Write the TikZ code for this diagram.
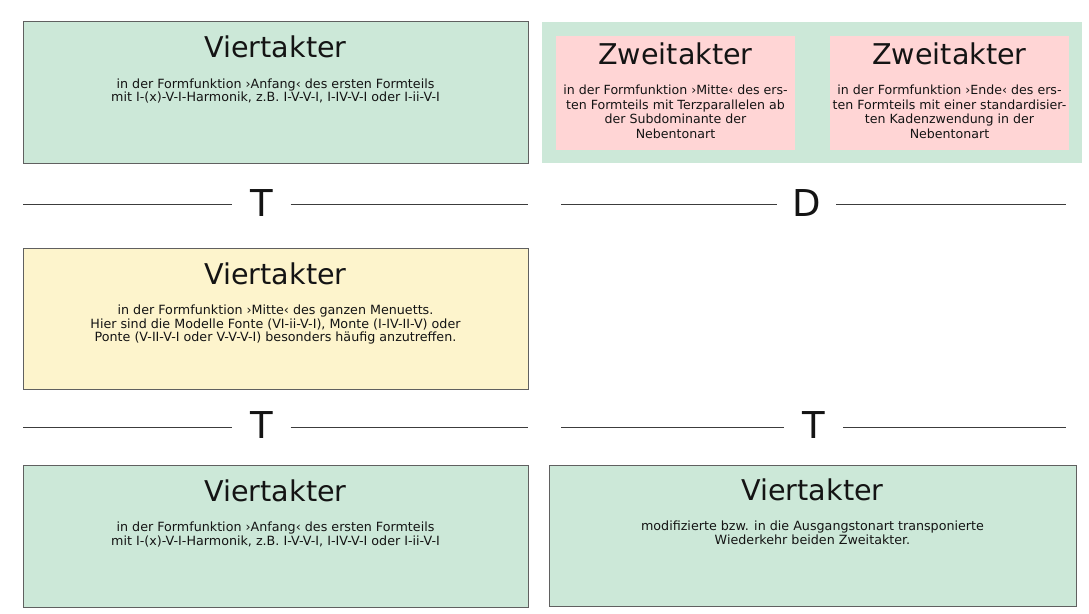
\documentclass[tikz,border=0pt]{standalone}
\usepackage{fontspec}
\setmainfont{DejaVu Sans}
\definecolor{boxgreen}{RGB}{204,232,216}
\definecolor{boxpink}{RGB}{255,213,213}
\definecolor{boxyellow}{RGB}{253,244,204}
\definecolor{boxline}{RGB}{96,96,96}
\definecolor{rule}{RGB}{60,60,60}
\definecolor{ink}{RGB}{20,20,20}
\tikzset{
  panel/.style={rectangle, draw=boxline, line width=0.9pt, inner sep=0pt},
  plainpanel/.style={rectangle, inner sep=0pt},
  title/.style={anchor=base, inner sep=0pt, text=ink, font=\fontsize{28.6}{30}\selectfont},
  body/.style={anchor=north, inner sep=0pt, align=center, text=ink, font=\fontsize{12.7}{13.7}\selectfont},
  bodyz/.style={anchor=north, inner sep=0pt, align=center, text=ink, font=\fontsize{12.6}{14.6}\selectfont},
  fn/.style={anchor=base, inner sep=0pt, minimum width=58pt, text=ink, font=\fontsize{37}{40}\selectfont},
  rulel/.style={draw=rule, line width=0.9pt}
}
\begin{document}
\begin{tikzpicture}[x=1pt,y=-1pt]
\useasboundingbox (0,0) rectangle (1089,613);
% top left
\node[panel, fill=boxgreen, minimum width=505pt, minimum height=142pt] (b1) at (275.5,92) {};
\node[title] (b1t) at (275.5,57) {Viertakter};
\node[body] (b1b) at (275.5,78.2) {in der Formfunktion ›Anfang‹ des ersten Formteils\\ mit I-(x)-V-I-Harmonik, z.B. I-V-V-I, I-IV-V-I oder I-ii-V-I};
% top right green panels
\node[plainpanel, fill=boxgreen, minimum width=266pt, minimum height=141pt] (g1) at (675,92.5) {};
\node[plainpanel, fill=boxgreen, minimum width=274pt, minimum height=141pt] (g2) at (945,92.5) {};
\node[plainpanel, fill=boxpink, minimum width=239pt, minimum height=114pt] (p1) at (675.5,93) {};
\node[plainpanel, fill=boxpink, minimum width=239pt, minimum height=114pt] (p2) at (949.5,93) {};
\node[title] (p1t) at (675.5,64.3) {Zweitakter};
\node[bodyz] (p1b) at (675.5,84.8) {in der Formfunktion ›Mitte‹ des ers-\\ten Formteils mit Terzparallelen ab\\der Subdominante der\\Nebentonart};
\node[title] (p2t) at (949.5,64.3) {Zweitakter};
\node[bodyz] (p2b) at (949.5,84.8) {in der Formfunktion ›Ende‹ des ers-\\ten Formteils mit einer standardisier-\\ten Kadenzwendung in der\\Nebentonart};
% row 1 functions
\coordinate (r1a) at (23,204.5);
\coordinate (r1b) at (528,204.5);
\node[fn] (f1) at (261.5,216) {T};
\draw[rulel] (r1a) -- (r1a -| f1.west);
\draw[rulel] (f1.east |- r1b) -- (r1b);
\coordinate (r1c) at (561,204.5);
\coordinate (r1d) at (1066,204.5);
\node[fn, minimum width=59pt] (f2) at (806.5,216) {D};
\draw[rulel] (r1c) -- (r1c -| f2.west);
\draw[rulel] (f2.east |- r1d) -- (r1d);
% middle yellow
\node[panel, fill=boxyellow, minimum width=505pt, minimum height=141pt] (b2) at (275.5,318.5) {};
\node[title] (b2t) at (275.5,284.3) {Viertakter};
\node[body] (b2b) at (275.5,304.5) {in der Formfunktion ›Mitte‹ des ganzen Menuetts.\\Hier sind die Modelle Fonte (VI-ii-V-I), Monte (I-IV-II-V) oder\\ Ponte (V-II-V-I oder V-V-V-I) besonders häufig anzutreffen.};
% row 2 functions
\coordinate (r2a) at (23,427);
\coordinate (r2b) at (528,427);
\node[fn] (f3) at (261.5,438.5) {T};
\draw[rulel] (r2a) -- (r2a -| f3.west);
\draw[rulel] (f3.east |- r2b) -- (r2b);
\coordinate (r2c) at (561,427);
\coordinate (r2d) at (1066,427);
\node[fn, minimum width=59pt] (f4) at (813.5,438.5) {T};
\draw[rulel] (r2c) -- (r2c -| f4.west);
\draw[rulel] (f4.east |- r2d) -- (r2d);
% bottom left
\node[panel, fill=boxgreen, minimum width=505pt, minimum height=142pt] (b3) at (275.5,536) {};
\node[title] (b3t) at (275.5,501) {Viertakter};
\node[body] (b3b) at (275.5,521.8) {in der Formfunktion ›Anfang‹ des ersten Formteils\\ mit I-(x)-V-I-Harmonik, z.B. I-V-V-I, I-IV-V-I oder I-ii-V-I};
% bottom right
\node[panel, fill=boxgreen, minimum width=527pt, minimum height=141pt] (b4) at (812.5,535.5) {};
\node[title] (b4t) at (812.5,500.7) {Viertakter};
\node[body] (b4b) at (812.5,521) {modifizierte bzw. in die Ausgangstonart transponierte\\Wiederkehr beiden Zweitakter.};
\end{tikzpicture}
\end{document}
